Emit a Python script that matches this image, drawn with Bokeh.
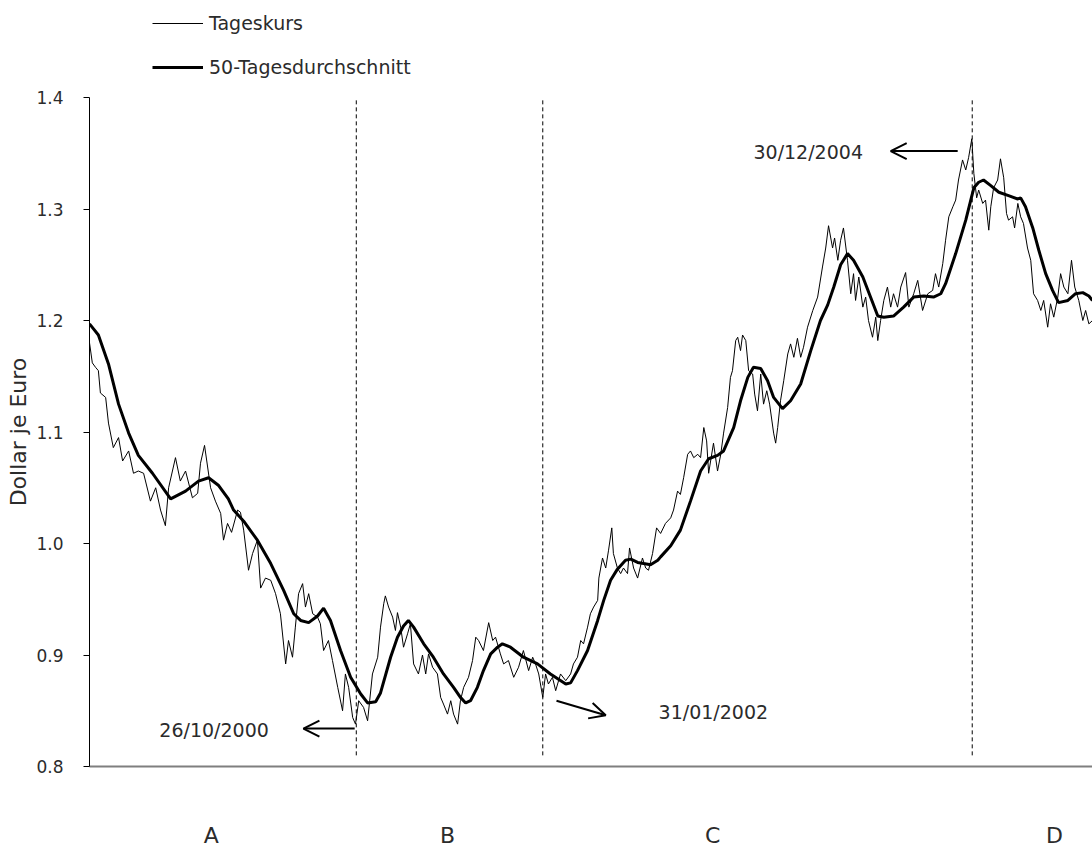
from bokeh.plotting import figure
from bokeh.layouts import column
from bokeh.models import (Range1d, FixedTicker, Legend, LegendItem, Arrow,
                          OpenHead, Label, NumeralTickFormatter)
from bokeh.embed import file_html
from bokeh.resources import INLINE
import pandas as pd

# ---------------- data ----------------
START = "1999-01-04"          # first trading day shown (x = calendar days since START)
END_DAY = 2485                # last day shown on the chart

# Tageskurs (daily rate)
kurs_tag = [0, 7, 15, 22, 27, 40, 47, 59, 72, 82,
            97, 109, 121, 134, 151, 164, 176, 188, 196, 213,
            225, 238, 255, 268, 275, 285, 300, 312, 325, 332,
            342, 352, 367, 374, 382, 394, 404, 416, 424, 436,
            449, 461, 473, 486, 493, 503, 510, 518, 528, 535,
            543, 553, 565, 572, 580, 592, 602, 615, 627, 634,
            642, 652, 659, 667, 679, 689, 701, 714, 721, 729,
            733, 741, 751, 758, 763, 771, 778, 788, 795, 803,
            815, 825, 833, 840, 850, 862, 870, 877, 887, 895,
            902, 912, 919, 927, 939, 949, 957, 964, 976, 989,
            999, 1006, 1018, 1026, 1038, 1051, 1063, 1075, 1088, 1098,
            1105, 1113, 1123, 1130, 1137, 1147, 1155, 1167, 1180, 1192,
            1199, 1209, 1217, 1224, 1234, 1241, 1249, 1259, 1262, 1271,
            1279, 1286, 1294, 1298, 1308, 1316, 1323, 1333, 1338, 1348,
            1358, 1370, 1378, 1385, 1395, 1405, 1415, 1427, 1440, 1447,
            1457, 1464, 1472, 1482, 1489, 1497, 1507, 1514, 1522, 1529,
            1534, 1546, 1556, 1564, 1571, 1581, 1588, 1593, 1601, 1606,
            1613, 1618, 1626, 1633, 1643, 1648, 1655, 1663, 1670, 1678,
            1685, 1695, 1700, 1705, 1712, 1720, 1730, 1737, 1745, 1754,
            1762, 1769, 1779, 1792, 1804, 1816, 1824, 1831, 1841, 1846,
            1854, 1861, 1868, 1878, 1886, 1893, 1898, 1906, 1916, 1923,
            1930, 1940, 1948, 1953, 1960, 1968, 1977, 1985, 1992, 2002,
            2010, 2022, 2030, 2042, 2052, 2064, 2077, 2089, 2096, 2104,
            2114, 2121, 2129, 2139, 2146, 2153, 2163, 2171, 2178, 2186,
            2191, 2198, 2203, 2213, 2220, 2228, 2233, 2240, 2250, 2257,
            2265, 2272, 2277, 2287, 2292, 2300, 2307, 2314, 2324, 2332,
            2339, 2349, 2357, 2364, 2374, 2381, 2389, 2399, 2406, 2414,
            2424, 2433, 2441, 2451, 2461, 2468, 2476, 2485]
kurs_wert = [1.180, 1.162, 1.158, 1.155, 1.135, 1.131, 1.108, 1.086, 1.095, 1.074,
             1.083, 1.063, 1.065, 1.063, 1.038, 1.050, 1.030, 1.016, 1.050, 1.077,
             1.056, 1.065, 1.041, 1.045, 1.072, 1.088, 1.050, 1.038, 1.027, 1.003,
             1.018, 1.010, 1.030, 1.028, 1.012, 0.976, 0.991, 1.003, 0.960, 0.969,
             0.967, 0.955, 0.937, 0.892, 0.913, 0.898, 0.925, 0.955, 0.964, 0.943,
             0.955, 0.937, 0.934, 0.928, 0.904, 0.913, 0.895, 0.871, 0.850, 0.883,
             0.871, 0.844, 0.838, 0.859, 0.853, 0.841, 0.883, 0.898, 0.925, 0.946,
             0.953, 0.943, 0.934, 0.922, 0.938, 0.925, 0.907, 0.919, 0.928, 0.892,
             0.883, 0.900, 0.883, 0.901, 0.889, 0.883, 0.862, 0.856, 0.847, 0.859,
             0.847, 0.838, 0.859, 0.871, 0.880, 0.895, 0.916, 0.913, 0.904, 0.929,
             0.913, 0.916, 0.901, 0.892, 0.895, 0.880, 0.889, 0.904, 0.886, 0.898,
             0.892, 0.883, 0.862, 0.883, 0.874, 0.880, 0.868, 0.883, 0.877, 0.883,
             0.892, 0.898, 0.913, 0.910, 0.925, 0.937, 0.943, 0.949, 0.969, 0.987,
             0.978, 0.994, 1.014, 0.991, 0.978, 0.973, 0.978, 0.973, 0.996, 0.978,
             0.969, 0.987, 0.978, 0.976, 0.991, 1.014, 1.009, 1.018, 1.023, 1.030,
             1.047, 1.044, 1.059, 1.080, 1.083, 1.077, 1.080, 1.077, 1.104, 1.092,
             1.063, 1.090, 1.065, 1.080, 1.099, 1.122, 1.149, 1.155, 1.182, 1.185,
             1.173, 1.187, 1.182, 1.155, 1.152, 1.134, 1.119, 1.152, 1.125, 1.137,
             1.125, 1.099, 1.090, 1.104, 1.128, 1.146, 1.170, 1.179, 1.167, 1.184,
             1.167, 1.176, 1.194, 1.209, 1.221, 1.248, 1.265, 1.285, 1.265, 1.274,
             1.254, 1.272, 1.283, 1.254, 1.224, 1.242, 1.218, 1.239, 1.212, 1.221,
             1.200, 1.185, 1.203, 1.182, 1.200, 1.218, 1.230, 1.212, 1.224, 1.212,
             1.230, 1.243, 1.212, 1.224, 1.236, 1.209, 1.224, 1.227, 1.242, 1.230,
             1.251, 1.272, 1.293, 1.302, 1.308, 1.326, 1.344, 1.335, 1.346, 1.363,
             1.332, 1.310, 1.317, 1.305, 1.308, 1.281, 1.302, 1.319, 1.326, 1.345,
             1.328, 1.296, 1.290, 1.293, 1.283, 1.305, 1.293, 1.287, 1.265, 1.254,
             1.224, 1.218, 1.209, 1.218, 1.194, 1.215, 1.203, 1.221, 1.242, 1.230,
             1.224, 1.254, 1.230, 1.218, 1.200, 1.209, 1.197, 1.200]

# 50-Tagesdurchschnitt (50-day average)
ma_tag = [0, 22, 47, 72, 97, 121, 156, 201, 238, 270,
          295, 320, 344, 357, 382, 416, 449, 481, 506, 523,
          543, 565, 580, 597, 622, 647, 672, 689, 709, 721,
          746, 763, 778, 790, 803, 828, 852, 877, 902, 919,
          932, 944, 961, 976, 994, 1011, 1023, 1043, 1068, 1075,
          1110, 1142, 1180, 1192, 1209, 1234, 1259, 1274, 1291, 1308,
          1328, 1341, 1358, 1373, 1390, 1408, 1415, 1440, 1464, 1489,
          1514, 1534, 1556, 1571, 1596, 1613, 1631, 1645, 1663, 1680,
          1695, 1717, 1737, 1762, 1787, 1811, 1829, 1844, 1861, 1878,
          1893, 1916, 1935, 1953, 1968, 1992, 2017, 2042, 2067, 2091,
          2109, 2121, 2146, 2171, 2191, 2203, 2215, 2233, 2253, 2277,
          2300, 2307, 2319, 2337, 2352, 2369, 2386, 2401, 2424, 2443,
          2461, 2476, 2485]
ma_wert = [1.197, 1.187, 1.161, 1.125, 1.099, 1.079, 1.063, 1.040, 1.047, 1.056,
           1.059, 1.052, 1.040, 1.030, 1.020, 1.003, 0.982, 0.958, 0.937, 0.931,
           0.929, 0.935, 0.942, 0.931, 0.904, 0.880, 0.865, 0.857, 0.858, 0.866,
           0.898, 0.916, 0.926, 0.931, 0.925, 0.910, 0.898, 0.883, 0.871, 0.862,
           0.857, 0.859, 0.871, 0.886, 0.901, 0.907, 0.910, 0.907, 0.900, 0.898,
           0.892, 0.883, 0.874, 0.875, 0.886, 0.904, 0.931, 0.949, 0.967, 0.977,
           0.985, 0.986, 0.983, 0.982, 0.981, 0.985, 0.988, 0.998, 1.012, 1.038,
           1.065, 1.076, 1.079, 1.083, 1.104, 1.128, 1.149, 1.158, 1.157, 1.146,
           1.131, 1.121, 1.128, 1.143, 1.173, 1.200, 1.214, 1.230, 1.250, 1.260,
           1.254, 1.239, 1.221, 1.204, 1.203, 1.204, 1.212, 1.221, 1.222, 1.221,
           1.224, 1.233, 1.260, 1.290, 1.319, 1.324, 1.326, 1.321, 1.315, 1.312,
           1.309, 1.310, 1.302, 1.283, 1.263, 1.242, 1.227, 1.216, 1.218, 1.224,
           1.225, 1.222, 1.218]

ereignis_datum = ["2000-10-26", "2002-01-31", "2004-12-30"]
ereignis_text = ["26/10/2000", "31/01/2002", "30/12/2004"]
phasen = ["A", "B", "C", "D"]
y_ticks = [0.8, 0.9, 1.0, 1.1, 1.2, 1.3, 1.4]
serien_namen = ["Tageskurs", "50-Tagesdurchschnitt"]

# ---------------- layout constants ----------------
FONT = "DejaVu Sans"
TXT = "#2b2b2b"
THIN, THICK = 1, 3
t0 = pd.Timestamp(START)
ev_days = [(pd.Timestamp(d) - t0).days for d in ereignis_datum]
phase_pos = [302, 887, 1544, 2391]     # where the phase letters sit (days)

# ---------------- main chart ----------------
p = figure(width=1092, height=765, output_backend="svg", toolbar_location=None,
           x_range=Range1d(0, END_DAY), y_range=Range1d(0.8, 1.4),
           min_border_left=89, min_border_right=0, min_border_top=12,
           min_border_bottom=84)
p.outline_line_color = None
p.xgrid.visible = False
p.ygrid.visible = False
p.background_fill_color = "white"
p.border_fill_color = "white"

# dashed event lines
p.segment(x0=ev_days, y0=[0.81] * 3, x1=ev_days, y1=[1.4] * 3,
          line_color="black", line_width=1, line_dash="4 3")

r_kurs = p.line(kurs_tag, kurs_wert, line_color="black", line_width=THIN)
r_ma = p.line(ma_tag, ma_wert, line_color="black", line_width=THICK)

# y axis
ya = p.yaxis[0]
ya.ticker = FixedTicker(ticks=y_ticks)
ya.formatter = NumeralTickFormatter(format="0.0")
ya.axis_label = "Dollar je Euro"
ya.axis_label_text_font = FONT
ya.axis_label_text_font_size = "22px"
ya.axis_label_text_font_style = "normal"
ya.axis_label_text_color = TXT
ya.axis_label_standoff = 2
ya.major_label_text_font = FONT
ya.major_label_text_font_size = "17px"
ya.major_label_text_color = TXT
ya.major_label_standoff = 20
ya.major_tick_out = 6
ya.major_tick_in = 0
ya.minor_tick_out = 0
ya.minor_tick_in = 0
ya.axis_line_color = "black"
ya.major_tick_line_color = "black"

# x axis: phase letters only
xa = p.xaxis[0]
xa.ticker = FixedTicker(ticks=phase_pos)
xa.major_label_overrides = {pos: lab for pos, lab in zip(phase_pos, phasen)}
xa.major_label_text_font = FONT
xa.major_label_text_font_size = "22px"
xa.major_label_text_color = TXT
xa.major_label_standoff = 56
xa.major_tick_out = 0
xa.major_tick_in = 0
xa.minor_tick_out = 0
xa.minor_tick_in = 0
xa.axis_line_color = "#7f7f7f"
xa.axis_line_width = 2

# annotations (text + arrows)
lab_pos = [(173, 0.833), (1410, 0.849), (1645, 1.351)]
for (lx, ly), txt in zip(lab_pos, ereignis_text):
    p.add_layout(Label(x=lx, y=ly, text=txt, text_font=FONT,
                       text_font_size="19px", text_color=TXT,
                       text_align="left", text_baseline="middle"))

arrows = [((657, 0.834), (530, 0.834)),
          ((1157, 0.859), (1279, 0.846)),
          ((2151, 1.352), (1985, 1.352))]
for (xs, ys), (xe, ye) in arrows:
    p.add_layout(Arrow(end=OpenHead(size=16, line_width=2, line_color="black"),
                       x_start=xs, y_start=ys, x_end=xe, y_end=ye,
                       line_width=2, line_color="black"))

# ---------------- legend strip above the chart ----------------
# (its frame is aligned with the chart frame by the column layout; the
#  proxy lines carry the same series but lie outside this strip's x range)
lf = figure(width=1092, height=85, output_backend="svg", toolbar_location=None,
            x_range=Range1d(-2, -1), y_range=Range1d(0, 1), min_border=0)
lf.xaxis.visible = False
lf.yaxis.visible = False
lf.xgrid.visible = False
lf.ygrid.visible = False
lf.outline_line_color = None
lk = lf.line(kurs_tag, kurs_wert, line_color="black", line_width=THIN)
lm = lf.line(ma_tag, ma_wert, line_color="black", line_width=THICK)
legend = Legend(items=[LegendItem(label=serien_namen[0], renderers=[lk]),
                       LegendItem(label=serien_namen[1], renderers=[lm])],
                location=(63, 7), orientation="vertical",
                glyph_width=51, glyph_height=22, label_height=22,
                spacing=22, padding=0, margin=0, label_standoff=6,
                border_line_alpha=0, background_fill_alpha=0,
                label_text_font=FONT, label_text_font_size="19px",
                label_text_color=TXT)
lf.add_layout(legend)

layout = column(lf, p, spacing=0)
open("out.html", "w").write(file_html(layout, INLINE))
